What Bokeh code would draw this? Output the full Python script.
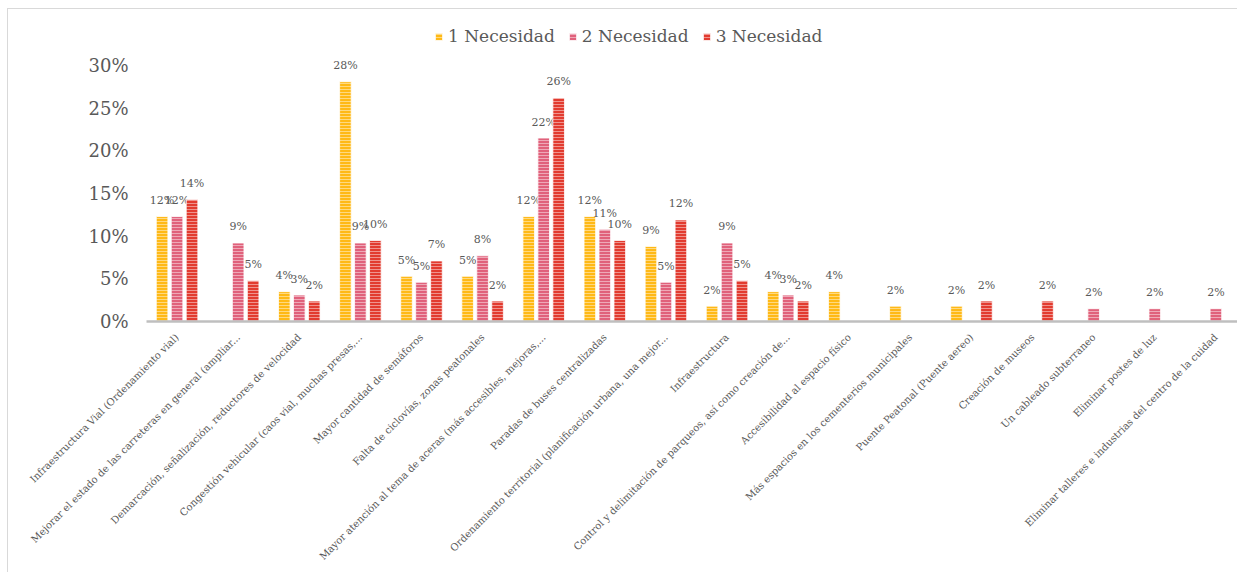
from bokeh.plotting import figure
from bokeh.models import (ColumnDataSource, Range1d, FixedTicker, PrintfTickFormatter,
                          Legend, LegendItem)
from bokeh.transform import dodge
from bokeh.core.properties import value
from bokeh.embed import file_html
from bokeh.resources import INLINE

categories = [
    "Infraestructura Vial (Ordenamiento vial)",
    "Mejorar el estado de las carreteras en general (ampliar...",
    "Demarcación, señalización, reductores de velocidad",
    "Congestión vehicular (caos vial, muchas presas,...",
    "Mayor cantidad de semáforos",
    "Falta de ciclovías, zonas peatonales",
    "Mayor atención al tema de aceras (más accesibles, mejoras,...",
    "Paradas de buses centralizadas",
    "Ordenamiento territorial (planificación urbana, una mejor...",
    "Infraestructura",
    "Control y delimitación de parqueos, así como creación de...",
    "Accesibilidad al espacio físico",
    "Más espacios en los cementerios municipales",
    "Puente Peatonal (Puente aereo)",
    "Creación de museos",
    "Un cableado subterraneo",
    "Eliminar postes de luz",
    "Eliminar talleres e industrias del centro de la cuidad",
]
series_names = ["1 Necesidad", "2 Necesidad", "3 Necesidad"]
necesidad_1 = [12.3, 0, 3.5, 28.1, 5.3, 5.3, 12.3, 12.3, 8.8, 1.8, 3.5, 3.5, 1.8, 1.8, 0, 0, 0, 0]
necesidad_2 = [12.3, 9.2, 3.1, 9.2, 4.6, 7.7, 21.5, 10.8, 4.6, 9.2, 3.1, 0, 0, 0, 0, 1.5, 1.5, 1.5]
necesidad_3 = [14.3, 4.8, 2.4, 9.5, 7.1, 2.4, 26.2, 9.5, 11.9, 4.8, 2.4, 0, 0, 2.4, 2.4, 0, 0, 0]
y_ticks = [0, 5, 10, 15, 20, 25, 30]

colors = ["#FFB916", "#E0617B", "#E23B2F"]
offsets = [-0.245, 0.0, 0.245]
FONT = "DejaVu Serif"
TXT = "#595959"

xs = [i + 0.5 for i in range(len(categories))]
src = ColumnDataSource(dict(x=xs, s1=necesidad_1, s2=necesidad_2, s3=necesidad_3))

p = figure(width=1230, height=564, output_backend="svg", toolbar_location=None,
           x_range=Range1d(0, 17.87), y_range=Range1d(0, 34.92),
           min_border_left=138, min_border_right=0, min_border_top=14, min_border_bottom=252)
p.styles = {"margin-left": "7px", "margin-top": "8px",
            "border-top": "1px solid #d9d9d9", "border-left": "1px solid #d9d9d9"}
p.outline_line_color = None
p.grid.visible = False

renderers = []
for key, vals, col, off in zip(["s1", "s2", "s3"], [necesidad_1, necesidad_2, necesidad_3], colors, offsets):
    r = p.vbar(x=dodge("x", off, range=p.x_range), top=key, width=0.19, source=src,
               fill_color=col, line_color="white", line_width=0.8,
               hatch_pattern="horizontal_line", hatch_color="white", hatch_alpha=0.45,
               hatch_scale=3, hatch_weight=1)
    renderers.append(r)
    lx = [x + off for x, v in zip(xs, vals) if v > 0]
    ly = [v for v in vals if v > 0]
    lt = ["%d%%" % int(v + 0.5) for v in vals if v > 0]
    lsrc = ColumnDataSource(dict(x=lx, y=ly, t=lt))
    p.text(x="x", y="y", text="t", source=lsrc, text_font=value(FONT), text_font_size="11px",
           text_color=TXT, text_align="center", text_baseline="middle", y_offset=-16)

# axes
xa = p.xaxis[0]
xa.ticker = FixedTicker(ticks=xs)
xa.major_label_overrides = {x: c for x, c in zip(xs, categories)}
xa.major_label_orientation = 0.785398
xa.major_tick_line_color = None
xa.minor_tick_line_color = None
xa.axis_line_color = "#bfbfbf"
xa.axis_line_width = 2.5
xa.major_label_text_font = FONT
xa.major_label_text_font_size = "10px"
xa.major_label_text_color = TXT
xa.major_label_standoff = 8

ya = p.yaxis[0]
ya.ticker = FixedTicker(ticks=y_ticks)
ya.formatter = PrintfTickFormatter(format="%d%%")
ya.axis_line_color = None
ya.major_tick_line_color = None
ya.minor_tick_line_color = None
ya.major_label_text_font = FONT
ya.major_label_text_font_size = "18px"
ya.major_label_text_color = TXT
ya.major_label_standoff = 12

legend = Legend(items=[LegendItem(label=n, renderers=[r]) for n, r in zip(series_names, renderers)],
                orientation="horizontal", location=(288, 275),
                label_text_font=FONT, label_text_font_size="17px", label_text_color=TXT,
                glyph_width=9, glyph_height=9, label_height=18, label_standoff=5, spacing=13,
                padding=0, margin=0, border_line_color=None, background_fill_alpha=0)
p.add_layout(legend, "center")

open("out.html", "w").write(file_html(p, INLINE))
